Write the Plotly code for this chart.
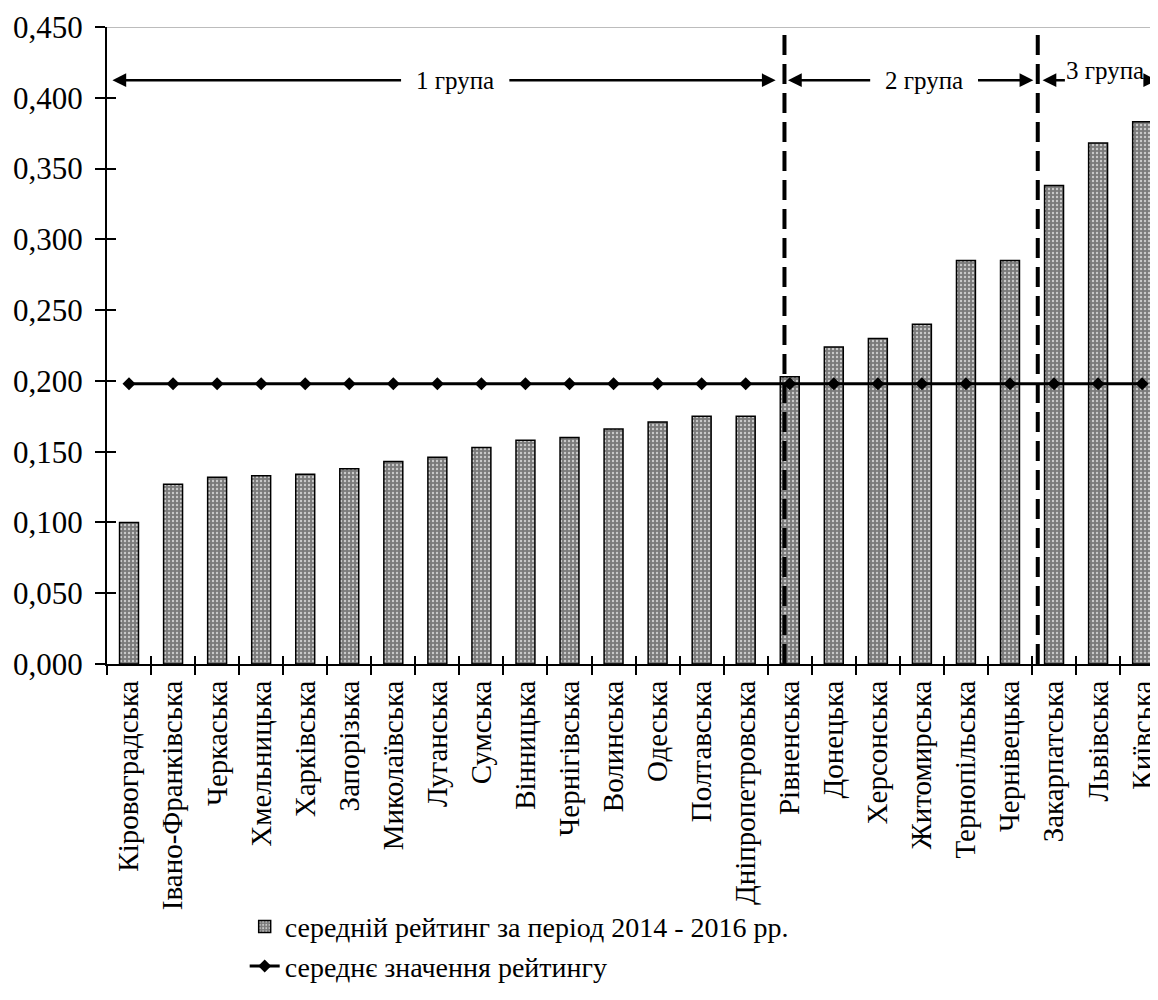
import plotly.graph_objects as go

regions = ["Кіровоградська", "Івано-Франківська", "Черкаська", "Хмельницька", "Харківська",
           "Запорізька", "Миколаївська", "Луганська", "Сумська", "Вінницька", "Чернігівська",
           "Волинська", "Одеська", "Полтавська", "Дніпропетровська", "Рівненська", "Донецька",
           "Херсонська", "Житомирська", "Тернопільська", "Чернівецька", "Закарпатська",
           "Львівська", "Київська"]
avg_rating = [0.100, 0.127, 0.132, 0.133, 0.134, 0.138, 0.143, 0.146, 0.153, 0.158, 0.160,
              0.166, 0.171, 0.175, 0.175, 0.203, 0.224, 0.230, 0.240, 0.285, 0.285, 0.338,
              0.368, 0.383]
mean_value = [0.198] * len(regions)
y_ticks = [0.0, 0.05, 0.10, 0.15, 0.20, 0.25, 0.30, 0.35, 0.40, 0.45]

bar_name = "середній рейтинг за період 2014 - 2016 рр."
line_name = "середнє значення рейтингу"
group_labels = ["1 група", "2 група", "3 група"]

# group boundary positions (category units) and annotation layout
sep_positions = [14.88, 20.63]
arrow_y = 0.4124
group_segments = [  # (left tip, left gap, right gap, right tip, label x, label y)
    (-0.377, 6.21, 8.60, 14.68, 7.40, arrow_y),
    (14.96, 16.86, 19.24, 20.53, 18.05, arrow_y),
    (20.74, 21.28, 23.02, 23.34, 22.15, 0.419),
]

FONT = "Liberation Serif"
X_RANGE = [-0.5, 23.36]
Y_RANGE = [0, 0.45]

fig = go.Figure()
fig.add_trace(go.Bar(
    x=regions, y=avg_rating, name=bar_name,
    marker=dict(color="#7a7a7a",
                line=dict(color="black", width=1.5),
                pattern=dict(shape=".", bgcolor="#7a7a7a", fgcolor="#cacaca",
                             size=4, solidity=0.28, fillmode="replace")),
))
fig.add_trace(go.Scatter(
    x=regions, y=mean_value, name=line_name, mode="lines+markers",
    line=dict(color="black", width=3),
    marker=dict(symbol="diamond", size=10, color="black"),
))
# invisible copy on overlay axes, so the inner half of the crossing tick marks is drawn
fig.add_trace(go.Scatter(
    x=regions, y=mean_value, xaxis="x2", yaxis="y2", mode="markers",
    marker=dict(opacity=0), showlegend=False, hoverinfo="skip",
))

shapes = [dict(type="line", xref="paper", yref="y", x0=0, x1=1, y0=0.45, y1=0.45,
               line=dict(color="#a6a6a6", width=1.5), layer="below")]
for p in sep_positions:
    shapes.append(dict(type="line", xref="x", yref="y", x0=p, x1=p, y0=0.0, y1=0.453,
                       line=dict(color="black", width=4, dash="20px,9px")))

annotations = []
for (lt, lg, rg, rt, lx, ly), lab in zip(group_segments, group_labels):
    for tip, tail in [(lt, lg), (rt, rg)]:
        annotations.append(dict(x=tip, y=arrow_y, ax=tail, ay=arrow_y, xref="x", yref="y",
                                axref="x", ayref="y", text="", showarrow=True,
                                arrowhead=2, arrowsize=1.1, arrowwidth=2.5, arrowcolor="black"))
    annotations.append(dict(x=lx, y=ly, xref="x", yref="y", text=lab, showarrow=False,
                            font=dict(family=FONT, size=25, color="black")))

# the page body has an 8px margin, so the figure is sized to fill the rest of the window
fig.update_layout(
    width=1150, height=984,
    margin=dict(l=99, r=0, t=19, b=328),
    paper_bgcolor="white", plot_bgcolor="white",
    separators=", ",
    bargap=0.57,
    font=dict(family=FONT, size=28, color="black"),
    shapes=shapes, annotations=annotations,
    showlegend=True,
    legend=dict(x=0.131, y=-0.513, xanchor="left", yanchor="bottom",
                font=dict(family=FONT, size=28, color="black"),
                bgcolor="rgba(0,0,0,0)", tracegroupgap=0),
    xaxis=dict(type="category", range=X_RANGE, tickangle=-90, automargin=False,
               tickson="boundaries", ticks="outside", ticklen=9, tickwidth=1.5,
               tickcolor="black", showline=True, linecolor="black", linewidth=2,
               ticklabelstandoff=3,
               showgrid=False, tickfont=dict(family=FONT, size=29, color="black")),
    yaxis=dict(range=Y_RANGE, tickvals=y_ticks, tickformat=".3f", automargin=False,
               ticks="outside", ticklen=10, tickwidth=1.5, tickcolor="black",
               ticklabelstandoff=6,
               showline=True, linecolor="black", linewidth=2, showgrid=False,
               zeroline=False, tickfont=dict(family=FONT, size=31, color="black")),
    xaxis2=dict(type="category", overlaying="x", anchor="y2", side="bottom", range=X_RANGE,
                tickson="boundaries", ticks="inside", ticklen=8, tickwidth=1.5,
                tickcolor="black", showticklabels=False, showline=False, showgrid=False,
                automargin=False),
    yaxis2=dict(overlaying="y", anchor="x2", side="left", range=Y_RANGE, tickvals=y_ticks,
                ticks="inside", ticklen=9, tickwidth=1.5, tickcolor="black",
                showticklabels=False, showline=False, showgrid=False, zeroline=False,
                automargin=False),
)

fig.write_html("out.html")
